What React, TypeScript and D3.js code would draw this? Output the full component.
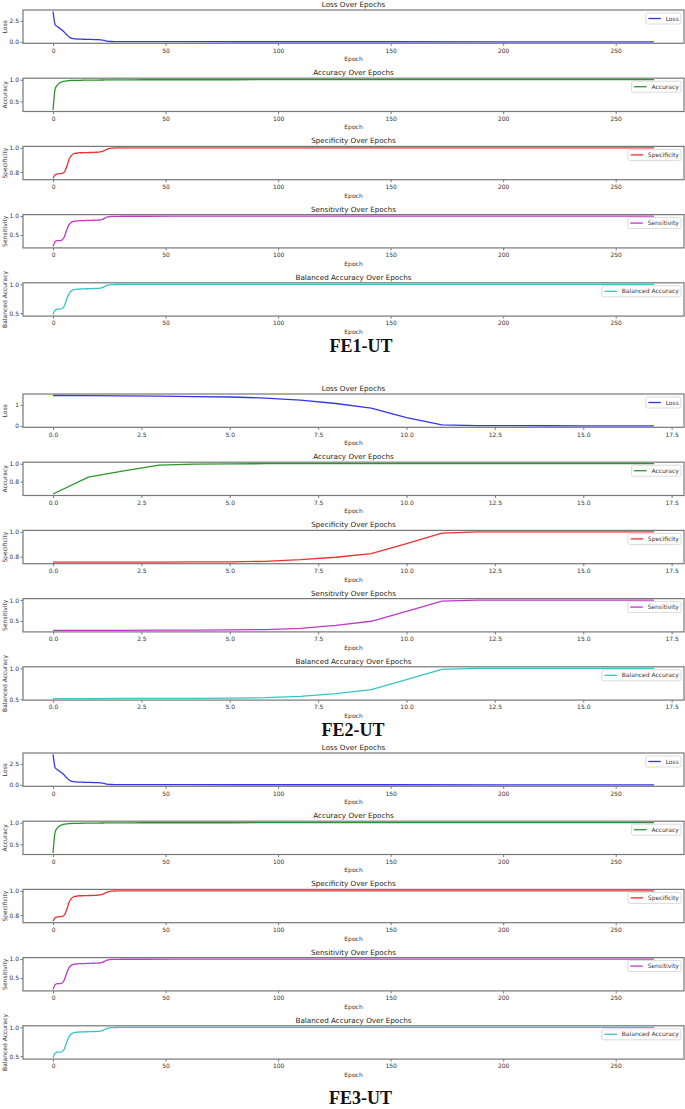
import { useEffect, useRef } from "react";
import * as d3 from "d3";

const W = 685;
const H = 1109;

const metricTitles = [
  "Loss Over Epochs",
  "Accuracy Over Epochs",
  "Specificity Over Epochs",
  "Sensitivity Over Epochs",
  "Balanced Accuracy Over Epochs",
];
const metricNames = ["Loss", "Accuracy", "Specificity", "Sensitivity", "Balanced Accuracy"];
const metricColors = ["#3434f2", "#2a962a", "#ee3030", "#c038c8", "#38c4c4"];

// FE1-UT run: epochs sampled where the curves move, then along the flat tail
const fe1Epochs = [
  0, 1, 2, 3, 4, 5, 6, 7, 8, 9, 10, 11, 12, 13, 14, 15, 16, 17, 18, 19, 20,
  21, 22, 23, 24, 25, 26, 27, 28, 29, 30, 40, 60, 100, 150, 200, 267,
];
const fe1Loss = [
  3.6, 2.0, 1.8, 1.6, 1.4, 1.15, 0.85, 0.6, 0.45, 0.38, 0.35,
  0.33, 0.32, 0.31, 0.3, 0.3, 0.29, 0.28, 0.27, 0.26, 0.25,
  0.23, 0.2, 0.14, 0.08, 0.05, 0.04, 0.035, 0.03, 0.03, 0.028,
  0.02, 0.015, 0.01, 0.008, 0.006, 0.005,
];
const fe1Accuracy = [
  0.3, 0.8, 0.88, 0.93, 0.95, 0.965, 0.975, 0.98, 0.982, 0.984, 0.985,
  0.986, 0.987, 0.988, 0.989, 0.99, 0.99, 0.991, 0.991, 0.992, 0.992,
  0.993, 0.993, 0.994, 0.995, 0.996, 0.996, 0.997, 0.997, 0.998, 0.998,
  0.999, 0.999, 1.0, 1.0, 1.0, 1.0,
];
const fe1Specificity = [
  0.75, 0.78, 0.785, 0.787, 0.79, 0.8, 0.84, 0.9, 0.935, 0.95, 0.955,
  0.958, 0.96, 0.96, 0.961, 0.961, 0.962, 0.962, 0.963, 0.964, 0.965,
  0.968, 0.972, 0.98, 0.99, 0.995, 0.998, 0.999, 1.0, 1.0, 1.0,
  1.0, 1.0, 1.0, 1.0, 1.0, 1.0,
];
const fe1Sensitivity = [
  0.2, 0.33, 0.35, 0.35, 0.37, 0.45, 0.62, 0.76, 0.83, 0.86, 0.87,
  0.875, 0.878, 0.88, 0.882, 0.884, 0.886, 0.888, 0.89, 0.892, 0.895,
  0.9, 0.915, 0.945, 0.97, 0.985, 0.99, 0.992, 0.993, 0.994, 0.995,
  0.996, 0.997, 0.998, 0.998, 0.999, 0.999,
];
const fe1Balanced = [
  0.475, 0.555, 0.568, 0.569, 0.58, 0.625, 0.73, 0.83, 0.883, 0.905, 0.913,
  0.917, 0.919, 0.92, 0.922, 0.923, 0.924, 0.925, 0.927, 0.928, 0.93,
  0.934, 0.944, 0.963, 0.98, 0.99, 0.994, 0.996, 0.997, 0.997, 0.998,
  0.998, 0.998, 0.999, 0.999, 1.0, 1.0,
];

// FE2-UT run: 18 epochs
const fe2Epochs = [0, 1, 2, 3, 4, 5, 6, 7, 8, 9, 10, 11, 12, 13, 14, 15, 16, 17];
const fe2Loss = [1.45, 1.44, 1.43, 1.42, 1.4, 1.38, 1.33, 1.23, 1.07, 0.85, 0.4, 0.05, 0.02, 0.015, 0.012, 0.01, 0.01, 0.01];
const fe2Accuracy = [0.66, 0.85, 0.92, 0.985, 0.995, 0.998, 1.0, 1.0, 1.0, 1.0, 1.0, 1.0, 1.0, 1.0, 1.0, 1.0, 1.0, 1.0];
const fe2Specificity = [0.755, 0.755, 0.756, 0.756, 0.757, 0.758, 0.762, 0.775, 0.795, 0.825, 0.905, 0.99, 1.0, 1.0, 1.0, 1.0, 1.0, 1.0];
const fe2Sensitivity = [0.27, 0.27, 0.272, 0.274, 0.276, 0.28, 0.29, 0.32, 0.39, 0.49, 0.73, 0.975, 1.0, 1.0, 1.0, 1.0, 1.0, 1.0];
const fe2Balanced = [0.512, 0.512, 0.514, 0.515, 0.516, 0.519, 0.526, 0.548, 0.593, 0.658, 0.818, 0.983, 1.0, 1.0, 1.0, 1.0, 1.0, 1.0];

// tick labels
const longXTicks = [0, 50, 100, 150, 200, 250];
const shortXTicks = [0, 2.5, 5, 7.5, 10, 12.5, 15, 17.5];
const fe1YTicks = [[0, 2.5], [0.5, 1.0], [0.8, 1.0], [0.5, 1.0], [0.5, 1.0]];
const fe2YTicks = [[0, 1], [0.8, 1.0], [0.8, 1.0], [0.5, 1.0], [0.5, 1.0]];
const fe2YFormats = ["d", ".1f", ".1f", ".1f", ".1f"];

const groupLabels = ["FE1-UT", "FE2-UT", "FE3-UT"];

type Group = {
  label: string;
  epochs: number[];
  series: number[][];
  xTicks: number[];
  xFormat: string;
  yTicks: number[][];
  yFormats: string[];
  top: number;
  labelX: number;
  labelY: number;
  smooth: boolean;
};

// layout (px)
const LEFT = 23;
const RIGHT = 684;
const STEP = 68.2;
const AX_H = 33.3;
const FONT = "'DejaVu Sans', sans-serif";

export default function App(): JSX.Element {
  const ref = useRef<SVGSVGElement | null>(null);

  useEffect(() => {
    if (!ref.current) return;
    const fe1Series = [fe1Loss, fe1Accuracy, fe1Specificity, fe1Sensitivity, fe1Balanced];
    const groups: Group[] = [
      {
        label: groupLabels[0], epochs: fe1Epochs, series: fe1Series,
        xTicks: longXTicks, xFormat: "d", yTicks: fe1YTicks,
        yFormats: [".1f", ".1f", ".1f", ".1f", ".1f"], top: 10, labelX: 361, labelY: 352,
        smooth: true,
      },
      {
        label: groupLabels[1], epochs: fe2Epochs,
        series: [fe2Loss, fe2Accuracy, fe2Specificity, fe2Sensitivity, fe2Balanced],
        xTicks: shortXTicks, xFormat: ".1f", yTicks: fe2YTicks,
        yFormats: fe2YFormats, top: 394, labelX: 353, labelY: 736,
        smooth: false,
      },
      {
        // FE3-UT repeats the FE1-UT curves
        label: groupLabels[2], epochs: fe1Epochs, series: fe1Series,
        xTicks: longXTicks, xFormat: "d", yTicks: fe1YTicks,
        yFormats: [".1f", ".1f", ".1f", ".1f", ".1f"], top: 753, labelX: 360.5, labelY: 1104,
        smooth: true,
      },
    ];

    const svg = d3.select(ref.current);
    svg.selectAll("*").remove();
    svg.append("rect").attr("width", W).attr("height", H).attr("fill", "#fff");

    groups.forEach((g) => {
      const xMax = d3.max(g.epochs) ?? 1;
      const x = d3.scaleLinear().domain([-0.05 * xMax, 1.05 * xMax]).range([LEFT, RIGHT]);

      g.series.forEach((vals, i) => {
        const top = g.top + i * STEP;
        const bottom = top + AX_H;
        const lo = d3.min(vals) ?? 0;
        const hi = d3.max(vals) ?? 1;
        const pad = (hi - lo) * 0.05;
        const y = d3.scaleLinear().domain([lo - pad, hi + pad]).range([bottom, top]);
        const ax = svg.append("g");

        const pts = g.epochs.map((e, j) => [e, vals[j]] as [number, number]);
        ax.append("path")
          .datum(pts)
          .attr("fill", "none")
          .attr("stroke", metricColors[i])
          .attr("stroke-width", 1.3)
          .attr("stroke-linejoin", "round")
          .attr(
            "d",
            d3.line<[number, number]>()
              .x((d) => x(d[0]))
              .y((d) => y(d[1]))
              .curve(g.smooth ? d3.curveMonotoneX : d3.curveLinear),
          );

        // x axis
        const xa = ax.append("g")
          .attr("transform", `translate(0,${bottom})`)
          .call(
            d3.axisBottom(x).tickValues(g.xTicks).tickSize(2.5).tickPadding(2.5)
              .tickFormat((d) => d3.format(g.xFormat)(d as number)),
          );
        // y axis
        const ya = ax.append("g")
          .attr("transform", `translate(${LEFT},0)`)
          .call(
            d3.axisLeft(y).tickValues(g.yTicks[i]).tickSize(2.5).tickPadding(1.5)
              .tickFormat((d) => d3.format(g.yFormats[i])(d as number)),
          );
        [xa, ya].forEach((a) => {
          a.select(".domain").remove();
          a.selectAll("line").attr("stroke", "#555").attr("stroke-width", 0.8);
          a.selectAll("text").attr("font-family", FONT).attr("font-size", 6).attr("fill", "#333");
        });

        // frame
        ax.append("rect")
          .attr("x", LEFT).attr("y", top).attr("width", RIGHT - LEFT).attr("height", AX_H)
          .attr("fill", "none").attr("stroke", "#777").attr("stroke-width", 1.2);

        // titles and labels
        ax.append("text")
          .attr("x", (LEFT + RIGHT) / 2).attr("y", top - 3)
          .attr("text-anchor", "middle").attr("font-family", FONT).attr("font-size", 7.2)
          .attr("fill", "#222").text(metricTitles[i]);
        ax.append("text")
          .attr("x", (LEFT + RIGHT) / 2).attr("y", bottom + 17.8)
          .attr("text-anchor", "middle").attr("font-family", FONT).attr("font-size", 6)
          .attr("fill", "#333").text("Epoch");
        ax.append("text")
          .attr("transform", `translate(4.5,${(top + bottom) / 2}) rotate(-90)`)
          .attr("text-anchor", "middle").attr("dy", "0.35em")
          .attr("font-family", FONT).attr("font-size", 6)
          .attr("fill", "#333").text(metricNames[i]);

        // legend, upper right
        const lg = ax.append("g");
        const label = lg.append("text")
          .attr("font-family", FONT).attr("font-size", 6).attr("fill", "#333")
          .attr("dy", "0.35em").text(metricNames[i]);
        const tw = (label.node() as SVGTextElement).getComputedTextLength();
        const boxW = 2.5 + 12.5 + 4.8 + tw + 2.2;
        const bx = RIGHT - 3 - boxW;
        const by = top + 3;
        lg.insert("rect", "text")
          .attr("x", bx).attr("y", by).attr("width", boxW).attr("height", 11)
          .attr("rx", 1.5).attr("fill", "#fff").attr("fill-opacity", 0.85)
          .attr("stroke", "#d0d0d0").attr("stroke-width", 0.8);
        lg.append("line")
          .attr("x1", bx + 2.5).attr("x2", bx + 15).attr("y1", by + 5.5).attr("y2", by + 5.5)
          .attr("stroke", metricColors[i]).attr("stroke-width", 1.3);
        label.attr("x", bx + 19.8).attr("y", by + 5.5);
      });

      svg.append("text")
        .attr("x", g.labelX).attr("y", g.labelY)
        .attr("text-anchor", "middle")
        .attr("font-family", "'Liberation Serif', serif").attr("font-weight", "bold")
        .attr("font-size", 18).attr("fill", "#111")
        .text(g.label);
    });
  }, []);

  return (
    <svg
      ref={ref}
      width={W}
      height={H}
      style={{ position: "absolute", left: 0, top: 0, display: "block" }}
    />
  );
}
